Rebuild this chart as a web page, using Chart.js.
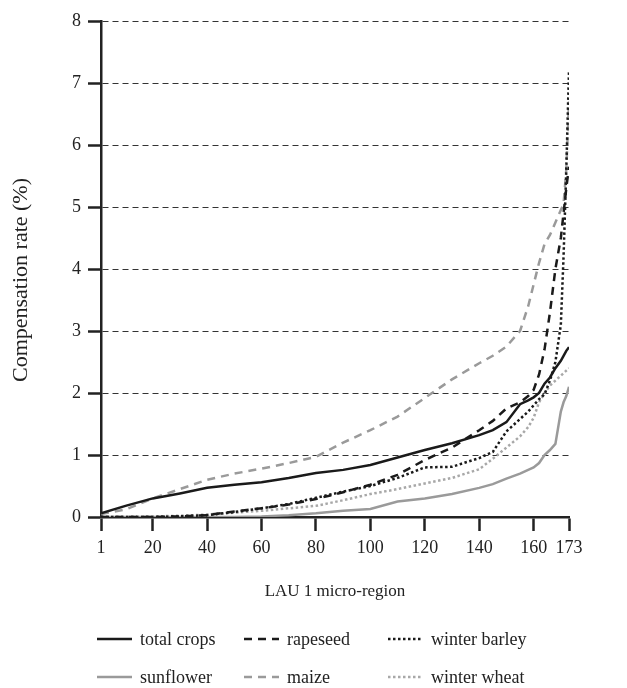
<!DOCTYPE html>
<html>
<head>
<meta charset="utf-8">
<script src="https://cdn.jsdelivr.net/npm/chart.js@4.4.1/dist/chart.umd.min.js"></script>
<style>
    body { margin: 0; background: #fff; }
    #wrap { position: relative; width: 627px; height: 688px; }
    #legend { position: absolute; left: 0; top: 0; width: 627px; height: 688px; pointer-events: none;
              font-family: 'Liberation Serif', 'DejaVu Serif', serif; font-size: 18px; color: #222; }
    .item { position: absolute; display: flex; align-items: center; height: 24px; }
    .item canvas { margin-right: 8px; }
</style>
</head>
<body>
<div id="wrap">
    <canvas id="chartCompensacao" width="627" height="688"></canvas>
    <div id="legend"></div>
</div>
<script>
// Dados (região LAU 1 ordenada)
const regioes = [1, 10, 20, 30, 40, 50, 60, 70, 80, 90, 100, 110, 120, 130, 140, 145, 150, 155, 158, 160, 162, 164, 166, 168, 170, 171, 172, 173];
const totalCrops = [0.06, 0.18, 0.30, 0.38, 0.47, 0.52, 0.56, 0.63, 0.71, 0.76, 0.84, 0.96, 1.08, 1.19, 1.32, 1.40, 1.53, 1.82, 1.88, 1.93, 2.00, 2.15, 2.25, 2.40, 2.52, 2.60, 2.68, 2.74];
const rapeseed = [0, 0, 0, 0.01, 0.03, 0.09, 0.14, 0.20, 0.29, 0.40, 0.52, 0.68, 0.92, 1.12, 1.40, 1.55, 1.75, 1.85, 1.95, 2.05, 2.30, 2.70, 3.30, 4.00, 4.50, 4.90, 5.30, 5.65];
const winterBarley = [0, 0, 0, 0.01, 0.03, 0.08, 0.14, 0.21, 0.31, 0.41, 0.50, 0.63, 0.80, 0.81, 0.95, 1.05, 1.38, 1.58, 1.70, 1.80, 1.90, 1.98, 2.20, 2.50, 3.10, 4.20, 5.60, 7.20];
const sunflower = [0, 0, 0, 0, 0, 0, 0.01, 0.03, 0.06, 0.10, 0.13, 0.25, 0.30, 0.37, 0.47, 0.53, 0.62, 0.70, 0.76, 0.80, 0.87, 1.00, 1.08, 1.18, 1.70, 1.85, 1.95, 2.10];
const maize = [0.05, 0.12, 0.30, 0.45, 0.60, 0.70, 0.78, 0.87, 0.97, 1.20, 1.40, 1.62, 1.92, 2.22, 2.48, 2.60, 2.75, 3.00, 3.40, 3.75, 4.10, 4.40, 4.55, 4.75, 4.95, 5.05, 5.60, 6.70];
const winterWheat = [0, 0, 0.01, 0.02, 0.04, 0.07, 0.10, 0.14, 0.18, 0.27, 0.37, 0.45, 0.54, 0.63, 0.77, 0.94, 1.12, 1.30, 1.45, 1.60, 1.85, 2.00, 2.12, 2.20, 2.28, 2.32, 2.36, 2.40];
const xTicks = [1, 20, 40, 60, 80, 100, 120, 140, 160, 173];
const yTicks = [0, 1, 2, 3, 4, 5, 6, 7, 8];
const tituloY = 'Compensation rate (%)';

const cores = {
    preto: '#1a1a1a',
    cinza: '#9a9a9a',
    cinzaClaro: '#a8a8a8'
};

function pontos(valores) {
    return regioes.map((r, i) => ({ x: r, y: valores[i] }));
}

function serie(label, valores, cor, dash) {
    return {
        label: label,
        data: pontos(valores),
        borderColor: cor,
        backgroundColor: cor,
        borderWidth: 2.5,
        borderDash: dash,
        borderCapStyle: 'butt',
        pointRadius: 0,
        tension: 0,
        fill: false
    };
}

const fonteSerif = "'Liberation Serif', 'DejaVu Serif', serif";

const datasets = [
    serie('total crops', totalCrops, cores.preto, []),
    serie('rapeseed', rapeseed, cores.preto, [8, 6]),
    serie('winter barley', winterBarley, cores.preto, [2.5, 2.5]),
    serie('sunflower', sunflower, cores.cinza, []),
    serie('maize', maize, cores.cinza, [8, 6]),
    serie('winter wheat', winterWheat, cores.cinzaClaro, [2.5, 2.5])
];

// título do eixo Y desenhado à parte (fica um pouco abaixo do centro no original)
const pluginTituloY = {
    id: 'tituloY',
    afterDraw(chart) {
        const ctx = chart.ctx;
        ctx.save();
        ctx.translate(21, 280);
        ctx.rotate(-Math.PI / 2);
        ctx.fillStyle = '#222';
        ctx.font = "22px " + fonteSerif;
        ctx.textAlign = 'center';
        ctx.textBaseline = 'middle';
        ctx.fillText(tituloY, 0, 0);
        ctx.restore();
    }
};

const canvas = document.getElementById('chartCompensacao');
const grafico = new Chart(canvas, {
    type: 'line',
    data: { datasets: datasets },
    plugins: [pluginTituloY],
    options: {
        responsive: false,
        animation: false,
        layout: { padding: { left: 0, right: 58, top: 21, bottom: 82 } },
        plugins: {
            legend: { display: false },
            tooltip: { enabled: false }
        },
        scales: {
            x: {
                type: 'linear',
                min: 1,
                max: 173,
                afterBuildTicks: function(scale) {
                    scale.ticks = xTicks.map(v => ({ value: v }));
                },
                afterFit: function(scale) { scale.height = 89; },
                ticks: {
                    autoSkip: false,
                    maxRotation: 0,
                    padding: 6,
                    color: '#222',
                    font: { family: fonteSerif, size: 18 }
                },
                grid: {
                    drawOnChartArea: false,
                    drawTicks: true,
                    tickLength: 14,
                    tickWidth: 2.5,
                    tickColor: '#222'
                },
                border: { display: true, color: '#222', width: 2.5 },
                title: {
                    display: true,
                    text: 'LAU 1 micro-region',
                    color: '#222',
                    padding: { top: 0, bottom: 4 },
                    font: { family: fonteSerif, size: 17 }
                }
            },
            y: {
                min: 0,
                max: 8,
                afterBuildTicks: function(scale) {
                    scale.ticks = yTicks.map(v => ({ value: v }));
                },
                afterFit: function(scale) { scale.width = 101; },
                ticks: {
                    padding: 7,
                    color: '#222',
                    font: { family: fonteSerif, size: 18 }
                },
                grid: {
                    color: '#333',
                    lineWidth: 1,
                    tickLength: 13,
                    tickWidth: 2.5,
                    tickColor: '#222',
                    tickBorderDash: []
                },
                border: { display: true, color: '#222', width: 2.5, dash: [6, 4] }
            }
        }
    }
});

// Legenda em 3 colunas, montada a partir dos datasets
const colunas = [97, 244, 388];
const linhas = [639, 677];
const legenda = document.getElementById('legend');
grafico.data.datasets.forEach((ds, i) => {
    const item = document.createElement('div');
    item.className = 'item';
    item.style.left = colunas[i % 3] + 'px';
    item.style.top = (linhas[Math.floor(i / 3)] - 12) + 'px';
    const amostra = document.createElement('canvas');
    amostra.width = 35;
    amostra.height = 10;
    const ctx = amostra.getContext('2d');
    ctx.strokeStyle = ds.borderColor;
    ctx.lineWidth = ds.borderWidth;
    ctx.setLineDash(ds.borderDash);
    ctx.beginPath();
    ctx.moveTo(0, 5);
    ctx.lineTo(35, 5);
    ctx.stroke();
    const texto = document.createElement('span');
    texto.textContent = ds.label;
    item.appendChild(amostra);
    item.appendChild(texto);
    legenda.appendChild(item);
});
</script>
</body>
</html>
